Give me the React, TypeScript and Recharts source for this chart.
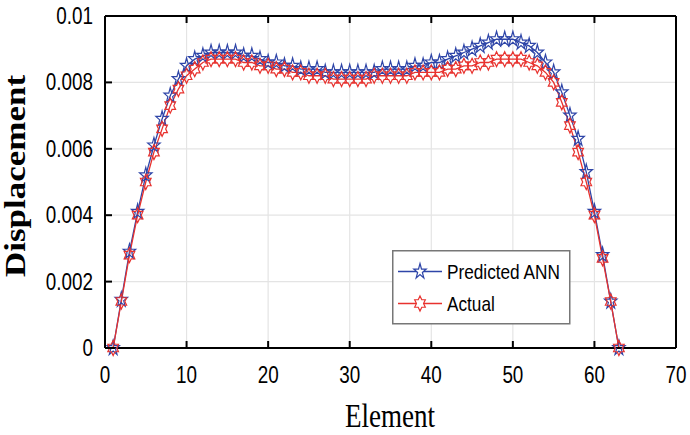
import React from "react";
import { LineChart, Line, XAxis, YAxis, CartesianGrid } from "recharts";

// element numbers along the bar
const elements = [
  1, 2, 3, 4, 5, 6, 7, 8, 9, 10, 11, 12, 13, 14, 15, 16, 17, 18, 19, 20, 21,
  22, 23, 24, 25, 26, 27, 28, 29, 30, 31, 32, 33, 34, 35, 36, 37, 38, 39, 40,
  41, 42, 43, 44, 45, 46, 47, 48, 49, 50, 51, 52, 53, 54, 55, 56, 57, 58, 59,
  60, 61, 62, 63,
];

const predictedAnn = [
  0, 0.00145, 0.0029, 0.0041, 0.0052, 0.0061, 0.0069, 0.0076, 0.0081, 0.0085,
  0.0087, 0.0088, 0.0089, 0.0089, 0.0089, 0.0089, 0.0088, 0.0088, 0.0087,
  0.0086, 0.0086, 0.0085, 0.0085, 0.0084, 0.0084, 0.0084, 0.0083, 0.0083,
  0.0083, 0.0083, 0.0083, 0.0083, 0.0083, 0.0084, 0.0084, 0.0084, 0.0084,
  0.0085, 0.0085, 0.0086, 0.0086, 0.0087, 0.0088, 0.0089, 0.009, 0.0091,
  0.0092, 0.0093, 0.0093, 0.0093, 0.0092, 0.0091, 0.0089, 0.0086, 0.0083,
  0.0077, 0.007, 0.0063, 0.0053, 0.0041, 0.0028, 0.0014, 0,
];

const actual = [
  0, 0.0014, 0.0028, 0.004, 0.005, 0.0059, 0.0066, 0.0073, 0.0078, 0.0082,
  0.0084, 0.0086, 0.0087, 0.0087, 0.0087, 0.0087, 0.0086, 0.0086, 0.0085,
  0.0085, 0.0084, 0.0084, 0.0083, 0.0083, 0.0082, 0.0082, 0.0082, 0.0081,
  0.0081, 0.0081, 0.0081, 0.0081, 0.0082, 0.0082, 0.0082, 0.0082, 0.0082,
  0.0083, 0.0083, 0.0083, 0.0083, 0.0084, 0.0084, 0.0085, 0.0085, 0.0086,
  0.0086, 0.0087, 0.0087, 0.0087, 0.0087, 0.0086, 0.0085, 0.0083, 0.008,
  0.0074, 0.0067, 0.0059, 0.005, 0.004, 0.0027, 0.0014, 0,
];

const xTicks = [0, 10, 20, 30, 40, 50, 60, 70];
const yTicks = [0, 0.002, 0.004, 0.006, 0.008, 0.01];
const yTickLabels = ["0", "0.002", "0.004", "0.006", "0.008", "0.01"];

const BLUE = "#2E45A8";
const RED = "#E8322E";
const SX = 0.82; // the original figure is squeezed sideways a bit

const data = elements.map((el, i) => ({
  el,
  predicted: predictedAnn[i],
  actual: actual[i],
}));

// matlab 'p' marker
const pentaPath = (cx: number, cy: number, r: number) => {
  let d = "";
  for (let k = 0; k < 10; k++) {
    const rr = k % 2 === 0 ? r : r * 0.382;
    const a = -Math.PI / 2 + (k * Math.PI) / 5;
    d += (k === 0 ? "M" : "L") + (cx + rr * Math.cos(a) * SX) + "," + (cy + rr * Math.sin(a));
  }
  return d + "Z";
};

// matlab 'h' marker
const hexaPath = (cx: number, cy: number, r: number) => {
  let d = "";
  for (let k = 0; k < 12; k++) {
    const rr = k % 2 === 0 ? r : r / Math.sqrt(3);
    const a = -Math.PI / 2 + (k * Math.PI) / 6;
    d += (k === 0 ? "M" : "L") + (cx + rr * Math.cos(a) * SX) + "," + (cy + rr * Math.sin(a));
  }
  return d + "Z";
};

const PentaDot = (props: any) => {
  const { cx, cy, index } = props;
  if (cx == null || cy == null) return <g key={"p" + index} />;
  return (
    <path key={"p" + index} d={pentaPath(cx, cy, 8)} fill="none" stroke={BLUE} strokeWidth={1.2} />
  );
};

const HexaDot = (props: any) => {
  const { cx, cy, index } = props;
  if (cx == null || cy == null) return <g key={"h" + index} />;
  return (
    <path key={"h" + index} d={hexaPath(cx, cy, 7.5)} fill="none" stroke={RED} strokeWidth={1.2} />
  );
};

const tickFont = "'Liberation Sans', Arial, sans-serif";

const BottomTick = (props: any) => {
  const { x, y, payload } = props;
  return (
    <g>
      <line x1={x} x2={x} y1={y} y2={y - 7} stroke="#000" strokeWidth={2} />
      <text
        transform={`translate(${x},${y + 35}) scale(${SX},1)`}
        textAnchor="middle"
        fontFamily={tickFont}
        fontSize={23}
        fill="#000"
      >
        {payload.value}
      </text>
    </g>
  );
};

const TopTick = (props: any) => {
  const { x, y } = props;
  return <line x1={x} x2={x} y1={y} y2={y + 7} stroke="#000" strokeWidth={2} />;
};

const LeftTick = (props: any) => {
  const { x, y, payload, index } = props;
  return (
    <g>
      <line x1={x} x2={x + 7} y1={y} y2={y} stroke="#000" strokeWidth={2} />
      <text
        transform={`translate(${x - 12},${y + 8}) scale(${SX},1)`}
        textAnchor="end"
        fontFamily={tickFont}
        fontSize={23}
        fill="#000"
      >
        {yTickLabels[index] ?? payload.value}
      </text>
    </g>
  );
};

const RightTick = (props: any) => {
  const { x, y } = props;
  return <line x1={x} x2={x - 7} y1={y} y2={y} stroke="#000" strokeWidth={2} />;
};

// legend box, drawn in the svg so it takes no layout room
const LegendBox = () => (
  <g transform="translate(392,250)">
    <rect x={0.75} y={0.75} width={177} height={73} fill="#fff" stroke="#777" strokeWidth={1.5} />
    <line x1={6} x2={50} y1={21.5} y2={21.5} stroke={BLUE} strokeWidth={1.5} />
    <path d={pentaPath(28, 21.5, 8)} fill="#fff" stroke={BLUE} strokeWidth={1.2} />
    <text
      transform={`translate(55,29) scale(${SX},1)`}
      fontFamily={tickFont}
      fontSize={21}
      fill="#000"
    >
      Predicted ANN
    </text>
    <line x1={6} x2={50} y1={53.5} y2={53.5} stroke={RED} strokeWidth={1.5} />
    <path d={hexaPath(28, 53.5, 7.5)} fill="#fff" stroke={RED} strokeWidth={1.2} />
    <text
      transform={`translate(55,61) scale(${SX},1)`}
      fontFamily={tickFont}
      fontSize={21}
      fill="#000"
    >
      Actual
    </text>
  </g>
);

const XTitle = () => (
  <g>
    <text
      transform={`translate(390,427) scale(${SX},1)`}
      textAnchor="middle"
      fontFamily="'Liberation Serif', 'Times New Roman', serif"
      fontSize={33}
      fill="#000"
    >
      Element
    </text>
  </g>
);

const YTitle = () => (
  <text
    transform={`translate(25,176) scale(${SX},1) rotate(-90)`}
    textAnchor="middle"
    fontFamily="'Liberation Serif', 'Times New Roman', serif"
    fontWeight="bold"
    fontSize={35}
    fill="#000"
  >
    Displacement
  </text>
);

// top axis label slot carries the legend, it is drawn after the lines
const TopLabel = () => <LegendBox />;

export default function App() {
  return (
    <div style={{ position: "absolute", left: 0, top: 0, background: "#fff" }}>
      <LineChart
        width={690}
        height={435}
        data={data}
        margin={{ top: 15, right: 13, bottom: 0, left: 0 }}
      >
        <CartesianGrid
          xAxisId="b"
          yAxisId="l"
          stroke="#e4e4e4"
          strokeWidth={1.2}
        />
        <XAxis
          xAxisId="b"
          dataKey="el"
          type="number"
          domain={[0, 70]}
          ticks={xTicks}
          interval={0}
          height={87}
          tickSize={0}
          tickMargin={0}
          tickLine={false}
          axisLine={{ stroke: "#000", strokeWidth: 2 }}
          tick={<BottomTick />}
          label={<XTitle />}
        />
        <XAxis
          xAxisId="t"
          orientation="top"
          dataKey="el"
          type="number"
          domain={[0, 70]}
          ticks={xTicks}
          interval={0}
          height={1}
          tickSize={0}
          tickMargin={0}
          tickLine={false}
          axisLine={{ stroke: "#000", strokeWidth: 2 }}
          tick={<TopTick />}
          label={<TopLabel />}
        />
        <YAxis
          yAxisId="l"
          type="number"
          domain={[0, 0.01]}
          ticks={yTicks}
          interval={0}
          width={105}
          tickSize={0}
          tickMargin={0}
          tickLine={false}
          axisLine={{ stroke: "#000", strokeWidth: 2 }}
          tick={<LeftTick />}
          label={<YTitle />}
        />
        <YAxis
          yAxisId="r"
          orientation="right"
          type="number"
          domain={[0, 0.01]}
          ticks={yTicks}
          interval={0}
          width={1}
          tickSize={0}
          tickMargin={0}
          tickLine={false}
          axisLine={{ stroke: "#000", strokeWidth: 2 }}
          tick={<RightTick />}
        />
        <Line
          xAxisId="b"
          yAxisId="l"
          dataKey="predicted"
          name="Predicted ANN"
          type="linear"
          stroke={BLUE}
          strokeWidth={1.3}
          dot={PentaDot}
          activeDot={false}
          isAnimationActive={false}
        />
        <Line
          xAxisId="b"
          yAxisId="l"
          dataKey="actual"
          name="Actual"
          type="linear"
          stroke={RED}
          strokeWidth={1.3}
          dot={HexaDot}
          activeDot={false}
          isAnimationActive={false}
        />
      </LineChart>
    </div>
  );
}
